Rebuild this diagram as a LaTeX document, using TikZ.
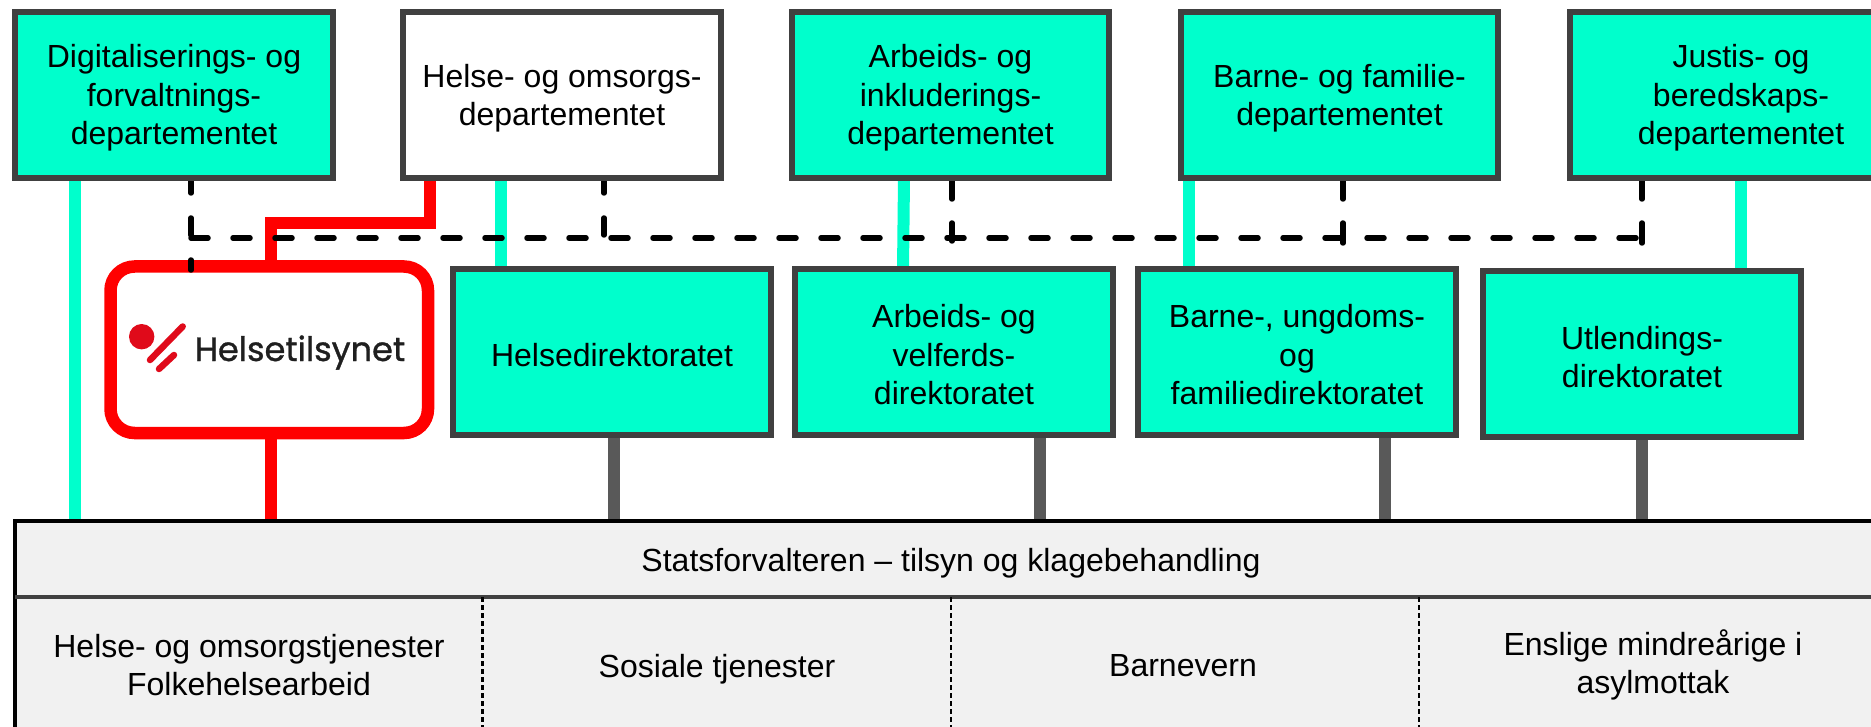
\documentclass[tikz,border=0pt]{standalone}
\usepackage{fontspec}
\setmainfont{Liberation Sans}
\newfontfamily\logofont[FakeBold=1]{Poppins}
\definecolor{mint}{HTML}{00FFCC}
\definecolor{edge}{HTML}{404040}
\definecolor{stem}{HTML}{595959}
\definecolor{panel}{HTML}{F1F1F1}
\definecolor{logored}{HTML}{E00A1A}
\tikzset{
  x=1pt,y=-1pt,
  base/.style={font=\fontsize{32}{38.5}\selectfont,align=center,text=black},
  dept/.style={draw=edge,line width=6pt,fill=mint},
  whitedept/.style={dept,fill=white},
  mintline/.style={mint,line width=12pt},
  redline/.style={red,line width=12pt},
  stemline/.style={stem,line width=12pt},
  dashline/.style={black,line width=5.5pt,line cap=round,dash pattern=on 17pt off 25pt},
  longdash/.style={black,line width=5.5pt,line cap=round,dash pattern=on 21pt off 24pt},
  celldash/.style={black,line width=2.5pt,dash pattern=on 5pt off 3pt},
}
\newcommand{\rectnode}[7][dept]{\path[#1] (#2,#3) rectangle (#4,#5);\node[base] (#6) at ({(#2+#4)/2},{(#3+#5)/2+3}) {#7};}
\begin{document}
\begin{tikzpicture}
\useasboundingbox (0,0) rectangle (1871,727);
\clip (0,0) rectangle (1871,727);
% connectors
\draw[mintline] (75,178) -- (75,525);
\draw[mintline] (501,178) -- (501,270);
\draw[mintline] (904,178) -- (903,270);
\draw[mintline] (1189,178) -- (1189,270);
\draw[mintline] (1741,178) -- (1741,272);
\draw[stemline] (614,432) -- (614,525);
\draw[stemline] (1040,432) -- (1040,525);
\draw[stemline] (1385,432) -- (1385,525);
\draw[stemline] (1642,435) -- (1642,525);
\draw[redline] (270.5,270) -- (270.5,223) -- (430,223) -- (430,178);
\draw[redline] (270.5,430) -- (270.5,525);
% supervisory box
\draw[red,line width=12.5pt,fill=white,rounded corners=24pt] (110.5,266.5) rectangle (428,433);
\fill[logored] (141.7,336.7) circle (12.7pt);
\draw[logored,line width=6.5pt,line cap=round] (150,360) -- (182.7,326.5);
\draw[logored,line width=6.5pt,line cap=round] (159,369) -- (174,355);
\node[anchor=base west,inner sep=0pt,font=\logofont\fontsize{33.6}{38}\selectfont,text=black!88] (logo) at (194.5,361) {Helsetilsynet};
% dashed links
\draw[dashline] (191,238) -- (1642,238);
\draw[dashline] (191,176) -- (191,270);
\draw[dashline] (604,176) -- (604,238);
\draw[longdash] (952,178) -- (952,241);
\draw[longdash] (1343,178) -- (1343,243);
\draw[longdash] (1642,178) -- (1642,243);
% top row
\rectnode{15}{12}{333}{178}{a}{Digitaliserings- og\\forvaltnings-\\departementet}
\rectnode[whitedept]{403}{12}{721}{178}{b}{Helse- og omsorgs-\\departementet}
\rectnode{792}{12}{1109}{178}{c}{Arbeids- og\\inkluderings-\\departementet}
\rectnode{1181}{12}{1498}{178}{d}{Barne- og familie-\\departementet}
\rectnode{1570}{12}{1912}{178}{e}{Justis- og\\beredskaps-\\departementet}
% middle row
\rectnode{453}{269}{771}{435}{f}{Helsedirektoratet}
\rectnode{795}{269}{1113}{435}{g}{Arbeids- og\\velferds-\\direktoratet}
\rectnode{1138}{269}{1456}{435}{h}{Barne-, ungdoms-\\og\\familiedirektoratet}
\rectnode{1483}{271}{1801}{437}{i}{Utlendings-\\direktoratet}
% bottom
\path[fill=panel] (14.5,521) rectangle (1871,727);
\draw[black,line width=4pt] (14.5,727) -- (14.5,521) -- (1871,521);
\draw[edge,line width=4pt] (14.5,597) -- (1871,597);
\draw[celldash] (482.5,597) -- (482.5,727);
\draw[celldash] (951,597) -- (951,727);
\draw[celldash] (1419,597) -- (1419,727);
\node[base] (s) at (951,563.5) {Statsforvalteren – tilsyn og klagebehandling};
\node[base] (t1) at (249,665) {Helse- og omsorgstjenester\\Folkehelsearbeid};
\node[base] (t2) at (717,669) {Sosiale tjenester};
\node[base] (t3) at (1183,666) {Barnevern};
\node[base] (t4) at (1653,665) {Enslige mindreårige i\\asylmottak};
\end{tikzpicture}
\end{document}
